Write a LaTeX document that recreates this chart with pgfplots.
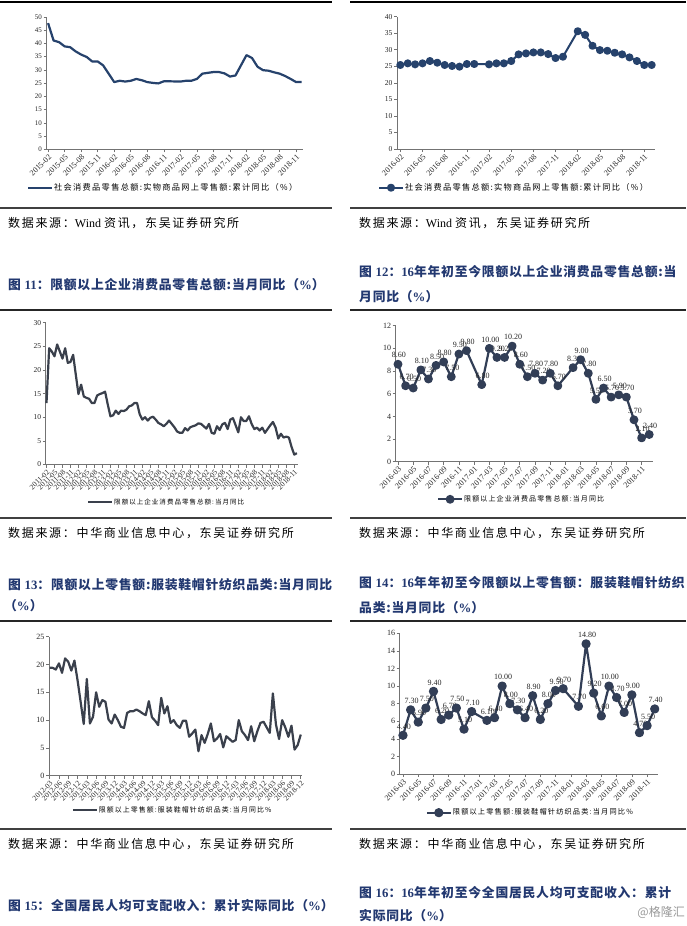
\documentclass[border=0pt]{standalone}
\usepackage{fontspec}
\setmainfont{Liberation Serif}
\newfontfamily\cjk{Noto Sans CJK SC}
\newfontfamily\cjksrc{Noto Sans CJK SC}[LetterSpace=14]
\newfontfamily\cjkcap{Noto Sans CJK SC}[LetterSpace=6]
\newfontfamily\cjkleg{Noto Sans CJK SC}[LetterSpace=16]
\usepackage{pgfplots}
\pgfplotsset{compat=1.18}
\definecolor{navy}{RGB}{38,66,108}
\definecolor{slate}{RGB}{58,64,76}
\definecolor{slateb}{RGB}{50,62,86}
\definecolor{capblue}{RGB}{34,56,112}
\pgfplotsset{
  base/.style={
    scale only axis, axis lines*=left, enlargelimits=false, clip=false,
    axis line style={black!55, line width=0.7pt},
    tick style={black!55, line width=0.6pt},
    tick align=outside, major tick length=3pt,
    /pgf/number format/assume math mode=true,
    yticklabel style={font=\fontsize{7.5}{8}\selectfont, text=black!85, inner sep=1.5pt},
    xticklabel style={font=\fontsize{8}{9}\selectfont, text=black!85, rotate=45, anchor=north east, inner sep=1pt},
    legend style={draw=none, fill=none, inner sep=0pt, outer sep=0pt, anchor=west, nodes={inner sep=1pt}},
    legend cell align=left,
    legend image code/.code={\draw[mark repeat=2,mark phase=2,##1] plot coordinates {(0pt,0pt) (12pt,0pt) (24pt,0pt)};},
  },
  lab/.style={only marks, mark=*, mark size=0.1pt, mark options={draw=none, fill=none}, forget plot, point meta=y,
    nodes near coords={\pgfmathprintnumber[fixed,fixed zerofill,precision=2]{\pgfplotspointmeta}},
    every node near coord/.append style={font=\fontsize{8}{9}\selectfont, text=black!85, anchor=south, yshift=5.5pt, xshift=1pt, inner sep=0.5pt}},
}
\begin{document}
\begin{tikzpicture}
\useasboundingbox (0pt,0pt) rectangle (686pt,-926pt);
% separator lines
\draw[line width=2.5pt] (0pt,-2pt) -- (332pt,-2pt);
\draw[line width=2.5pt] (350pt,-2pt) -- (686pt,-2pt);
\draw[line width=1.8pt, black!75] (0pt,-208pt) -- (332pt,-208pt);
\draw[line width=1.8pt, black!75] (350pt,-208pt) -- (686pt,-208pt);
\draw[line width=2.2pt, black!85] (0pt,-310pt) -- (332pt,-310pt);
\draw[line width=2.2pt, black!85] (350pt,-310pt) -- (686pt,-310pt);
\draw[line width=1.8pt, black!75] (0pt,-518pt) -- (332pt,-518pt);
\draw[line width=1.8pt, black!75] (350pt,-518pt) -- (686pt,-518pt);
\draw[line width=2.2pt, black!85] (0pt,-621pt) -- (332pt,-621pt);
\draw[line width=2.2pt, black!85] (350pt,-621pt) -- (686pt,-621pt);
\draw[line width=1.8pt, black!75] (0pt,-829pt) -- (332pt,-829pt);
\draw[line width=1.8pt, black!75] (350pt,-829pt) -- (686pt,-829pt);

% source lines
\begin{scope}[every node/.style={anchor=west, inner sep=0pt, font=\fontsize{12}{14}\selectfont}]
\node at (8pt,-223pt) {{\cjksrc 数据来源：}Wind {\cjksrc 资讯，东吴证券研究所}};
\node at (359pt,-223pt) {{\cjksrc 数据来源：}Wind {\cjksrc 资讯，东吴证券研究所}};
\node at (8pt,-533pt) {{\cjksrc 数据来源：中华商业信息中心，东吴证券研究所}};
\node at (359pt,-533pt) {{\cjksrc 数据来源：中华商业信息中心，东吴证券研究所}};
\node at (8pt,-844pt) {{\cjksrc 数据来源：中华商业信息中心，东吴证券研究所}};
\node at (359pt,-844pt) {{\cjksrc 数据来源：中华商业信息中心，东吴证券研究所}};
\end{scope}

% captions
\begin{scope}[every node/.style={anchor=west, inner sep=0pt, text=capblue, font=\bfseries\fontsize{12.8}{14}\selectfont}]
\node at (8pt,-285pt) {{\cjkcap 图 }11{\cjkcap ：限额以上企业消费品零售总额:当月同比（}\%{\cjkcap ）}};
\node at (359pt,-272pt) {{\cjkcap 图 }12{\cjkcap ：}16{\cjkcap  年年初至今限额以上企业消费品零售总额:当}};
\node at (359pt,-297pt) {{\cjkcap 月同比（}\%{\cjkcap ）}};
\node at (8pt,-585pt) {{\cjkcap 图 }13{\cjkcap ：限额以上零售额:服装鞋帽针纺织品类:当月同比}};
\node at (4pt,-606pt) {{\cjkcap （}\%{\cjkcap ）}};
\node at (359pt,-583pt) {{\cjkcap 图 }14{\cjkcap ：}16{\cjkcap  年年初至今限额以上零售额：服装鞋帽针纺织}};
\node at (359pt,-608pt) {{\cjkcap 品类:当月同比（}\%{\cjkcap ）}};
\node at (8pt,-906pt) {{\cjkcap 图 }15{\cjkcap ：全国居民人均可支配收入：累计实际同比（}\%{\cjkcap ）}};
\node at (359pt,-893pt) {{\cjkcap 图 }16{\cjkcap ：}16{\cjkcap  年年初至今全国居民人均可支配收入：累计}};
\node at (359pt,-916pt) {{\cjkcap 实际同比（}\%{\cjkcap ）}};
\end{scope}
\node[anchor=east, inner sep=0pt, text=black!40, font=\fontsize{12}{14}\selectfont] at (685pt,-912pt) {\cjk @格隆汇};

% ---------- Chart 1 ----------
\begin{axis}[base, at={(46.7pt,-149.3pt)}, anchor=south west, width=256.3pt, height=132.3pt,
  xmin=-0.25, xmax=46.25, ymin=0, ymax=50, ytick={0,5,...,50},
  yticklabel style={font=\fontsize{7}{8}\selectfont},
  xtick={0,3,...,45},
  xticklabels={2015-02,2015-05,2015-08,2015-11,2016-02,2016-05,2016-08,2016-11,2017-02,2017-05,2017-08,2017-11,2018-02,2018-05,2018-08,2018-11},
  legend style={at={(axis description cs:-0.0769,-0.2925)}, font=\fontsize{8.2}{9}\selectfont}]
\addplot[navy, line width=2.2pt, line join=round] coordinates {
(0,47.7)(1,41.1)(2,40.5)(3,38.9)(4,38.6)(5,37.0)(6,35.8)(7,34.9)(8,33.2)(9,33.2)(10,31.7)
(12,25.4)(13,25.9)(14,25.6)(15,25.9)(16,26.6)(17,26.1)(18,25.4)(19,25.1)(20,24.9)(21,25.7)(22,25.7)
(24,25.6)(25,25.9)(26,25.9)(27,26.6)(28,28.6)(29,28.9)(30,29.2)(31,29.2)(32,28.7)(33,27.5)(34,27.9)
(36,35.6)(37,34.5)(38,31.2)(39,29.9)(40,29.7)(41,29.1)(42,28.6)(43,27.7)(44,26.6)(45,25.4)(46,25.4)};
\addlegendentry{\cjkleg 社会消费品零售总额:实物商品网上零售额:累计同比（\%）}
\end{axis}

% ---------- Chart 2 ----------
\begin{axis}[base, at={(397pt,-149pt)}, anchor=south west, width=258pt, height=132.3pt,
  xmin=-0.45, xmax=34.45, ymin=0, ymax=40, ytick={0,5,...,40},
  xtick={0,3,...,33},
  xticklabels={2016-02,2016-05,2016-08,2016-11,2017-02,2017-05,2017-08,2017-11,2018-02,2018-05,2018-08,2018-11},
  legend style={at={(axis description cs:-0.0736,-0.2925)}, font=\fontsize{8.2}{9}\selectfont}]
\addplot[navy, line width=2pt, line join=round, mark=*, mark size=3pt, mark options={fill=navy, draw=navy}] coordinates {
(0,25.4)(1,25.9)(2,25.6)(3,25.9)(4,26.6)(5,26.1)(6,25.4)(7,25.1)(8,24.9)(9,25.7)(10,25.7)
(12,25.6)(13,25.9)(14,25.9)(15,26.6)(16,28.6)(17,28.9)(18,29.2)(19,29.2)(20,28.7)(21,27.5)(22,27.9)
(24,35.6)(25,34.5)(26,31.2)(27,29.9)(28,29.7)(29,29.1)(30,28.6)(31,27.7)(32,26.6)(33,25.4)(34,25.4)};
\addlegendentry{\cjkleg 社会消费品零售总额:实物商品网上零售额:累计同比（\%）}
\end{axis}

% ---------- Chart 3 ----------
\begin{axis}[base, at={(45.7pt,-464.5pt)}, anchor=south west, width=252pt, height=141.8pt,
  xmin=-0.3, xmax=94.3, ymin=0, ymax=30, ytick={0,5,...,30},
  xtick={0,3,...,93},
  xticklabel style={font=\fontsize{7.5}{8}\selectfont},
  xticklabels={2011-02,2011-05,2011-08,2011-11,2012-02,2012-05,2012-08,2012-11,2013-02,2013-05,2013-08,2013-11,2014-02,2014-05,2014-08,2014-11,2015-02,2015-05,2015-08,2015-11,2016-02,2016-05,2016-08,2016-11,2017-02,2017-05,2017-08,2017-11,2018-02,2018-05,2018-08,2018-11},
  legend style={at={(axis description cs:0.164,-0.2645)}, font=\fontsize{6.5}{8}\selectfont}]
\addplot[slate, line width=2.2pt, line join=round] coordinates {
(0,13.0)(1,24.6)(2,23.9)(3,22.9)(4,25.4)(5,23.9)(6,22.4)(7,24.6)(8,21.5)(9,21.7)
(10,23.2)(11,19.0)(12,14.9)(13,16.9)(14,14.4)(15,14.1)(16,13.9)(17,13.0)(18,13.0)(19,14.6)
(20,14.9)(21,15.1)(22,15.4)(23,12.7)(24,10.2)(25,10.4)(26,11.4)(27,10.7)(28,11.4)(29,11.3)
(30,11.6)(31,12.3)(32,12.5)(33,13.0)(34,13.0)(35,10.6)(36,9.5)(37,10.0)(38,9.3)(39,9.9)
(40,10.1)(41,9.5)(42,8.8)(43,8.5)(44,8.1)(45,8.6)(46,9.3)(47,8.6)(48,7.9)(49,7.0)
(50,6.7)(51,6.7)(52,7.7)(53,7.2)(54,7.9)(55,8.1)(56,8.3)(57,8.7)(58,8.6)(59,8.1)(60,7.6)
(61,8.6)(62,6.7)(63,6.5)(64,8.1)(65,7.3)(66,8.5)(67,8.8)(68,7.5)(69,9.5)(70,9.8)
(72,6.8)(73,10.0)(74,9.2)(75,9.2)(76,10.2)(77,8.6)(78,7.5)(79,7.8)(80,7.2)(81,7.8)(82,6.7)
(84,8.3)(85,9.0)(86,7.8)(87,5.5)(88,6.5)(89,5.7)(90,5.9)(91,5.7)(92,3.7)(93,2.1)(94,2.4)};
\addlegendentry{\cjkleg 限额以上企业消费品零售总额:当月同比}
\end{axis}

% ---------- Chart 4 ----------
\begin{axis}[base, at={(395.7pt,-461.7pt)}, anchor=south west, width=257.3pt, height=136pt,
  xmin=-0.3, xmax=33.5, ymin=0, ymax=12, ytick={0,2,...,12},
  yticklabel style={font=\fontsize{8}{9}\selectfont},
  xtick={0,2,...,32},
  xticklabels={2016-03,2016-05,2016-07,2016-09,2016-11,2017-01,2017-03,2017-05,2017-07,2017-09,2017-11,2018-01,2018-03,2018-05,2018-07,2018-09,2018-11},
  legend style={at={(axis description cs:0.1605,-0.2765)}, font=\fontsize{7}{8}\selectfont}]
\addplot[lab] coordinates {
(0,8.6)(1,6.7)(2,6.5)(3,8.1)(4,7.3)(5,8.5)(6,8.8)(7,7.5)(8,9.5)(9,9.8)
(11,6.8)(12,10.0)(13,9.2)(14,9.2)(15,10.2)(16,8.6)(17,7.5)(18,7.8)(19,7.2)(20,7.8)(21,6.7)
(23,8.3)(24,9.0)(25,7.8)(26,5.5)(27,6.5)(28,5.7)(29,5.9)(30,5.7)(31,3.7)(32,2.1)(33,2.4)};
\addplot[slateb, line width=2.2pt, line join=round, mark=*, mark size=3.3pt, mark options={fill=slateb, draw=slateb}] coordinates {
(0,8.6)(1,6.7)(2,6.5)(3,8.1)(4,7.3)(5,8.5)(6,8.8)(7,7.5)(8,9.5)(9,9.8)
(11,6.8)(12,10.0)(13,9.2)(14,9.2)(15,10.2)(16,8.6)(17,7.5)(18,7.8)(19,7.2)(20,7.8)(21,6.7)
(23,8.3)(24,9.0)(25,7.8)(26,5.5)(27,6.5)(28,5.7)(29,5.9)(30,5.7)(31,3.7)(32,2.1)(33,2.4)};
\addlegendentry{\cjkleg 限额以上企业消费品零售总额:当月同比}
\end{axis}

% ---------- Chart 5 ----------
\begin{axis}[base, at={(49pt,-775.7pt)}, anchor=south west, width=252.7pt, height=139pt,
  xmin=-0.2, xmax=81.3, ymin=0, ymax=25, ytick={0,5,...,25},
  yticklabel style={font=\fontsize{8}{9}\selectfont},
  xtick={0,3,...,81},
  xticklabel style={font=\fontsize{7.5}{8}\selectfont},
  xticklabels={2012-03,2012-06,2012-09,2012-12,2013-03,2013-06,2013-09,2013-12,2014-03,2014-06,2014-09,2014-12,2015-03,2015-06,2015-09,2015-12,2016-03,2016-06,2016-09,2016-12,2017-03,2017-06,2017-09,2017-12,2018-03,2018-06,2018-09,2018-12},
  legend style={at={(axis description cs:0.0898,-0.2468)}, font=\fontsize{6.9}{8}\selectfont}]
\addplot[slate, line width=2.2pt, line join=round] coordinates {
(0,19.4)(1,19.4)(2,19.1)(3,20.2)(4,18.5)(5,21.1)(6,20.5)(7,18.9)(8,20.7)(9,17.2)
(10,13.3)(11,9.3)(12,17.4)(13,9.4)(14,10.6)(15,15.0)(16,12.4)(17,13.6)(18,13.3)(19,10.1)
(20,9.4)(21,11.0)(22,10.0)(23,8.8)(24,8.6)(25,11.3)(26,11.6)(27,11.6)(28,11.9)(29,11.6)
(30,11.2)(31,10.9)(32,13.4)(33,10.5)(34,9.9)(35,9.1)(36,14.0)(37,11.2)(38,12.5)(39,9.5)
(40,10.0)(41,9.1)(42,8.6)(43,9.9)(44,9.9)(45,7.0)(46,7.6)(47,8.3)
(48,4.4)(49,7.3)(50,5.9)(51,7.5)(52,9.4)(53,6.2)(54,6.7)(55,7.5)(56,5.1)(57,7.1)
(59,6.1)(60,6.4)(61,10.0)(62,8.0)(63,7.3)(64,6.4)(65,8.9)(66,6.2)(67,8.0)(68,9.5)(69,9.7)
(71,7.7)(72,14.8)(73,9.2)(74,6.6)(75,10.0)(76,8.7)(77,7.0)(78,9.0)(79,4.7)(80,5.5)(81,7.4)};
\addlegendentry{\cjkleg 限额以上零售额:服装鞋帽针纺织品类:当月同比\%}
\end{axis}

% ---------- Chart 6 ----------
\begin{axis}[base, at={(399.7pt,-774pt)}, anchor=south west, width=258.3pt, height=140.7pt,
  xmin=-0.43, xmax=33.43, ymin=0, ymax=16, ytick={0,2,...,16},
  yticklabel style={font=\fontsize{8}{9}\selectfont},
  xtick={0,2,...,32},
  xticklabels={2016-03,2016-05,2016-07,2016-09,2016-11,2017-01,2017-03,2017-05,2017-07,2017-09,2017-11,2018-01,2018-03,2018-05,2018-07,2018-09,2018-11},
  legend style={at={(axis description cs:0.1007,-0.275)}, font=\fontsize{7.2}{8}\selectfont}]
\addplot[lab] coordinates {
(0,4.4)(1,7.3)(2,5.9)(3,7.5)(4,9.4)(5,6.2)(6,6.7)(7,7.5)(8,5.1)(9,7.1)
(11,6.1)(12,6.4)(13,10.0)(14,8.0)(15,7.3)(16,6.4)(17,8.9)(18,6.2)(19,8.0)(20,9.5)(21,9.7)
(23,7.7)(24,14.8)(25,9.2)(26,6.6)(27,10.0)(28,8.7)(29,7.0)(30,9.0)(31,4.7)(32,5.5)(33,7.4)};
\addplot[slateb, line width=2.2pt, line join=round, mark=*, mark size=3.5pt, mark options={fill=slateb, draw=slateb}] coordinates {
(0,4.4)(1,7.3)(2,5.9)(3,7.5)(4,9.4)(5,6.2)(6,6.7)(7,7.5)(8,5.1)(9,7.1)
(11,6.1)(12,6.4)(13,10.0)(14,8.0)(15,7.3)(16,6.4)(17,8.9)(18,6.2)(19,8.0)(20,9.5)(21,9.7)
(23,7.7)(24,14.8)(25,9.2)(26,6.6)(27,10.0)(28,8.7)(29,7.0)(30,9.0)(31,4.7)(32,5.5)(33,7.4)};
\addlegendentry{\cjkleg 限额以上零售额:服装鞋帽针纺织品类:当月同比\%}
\end{axis}
\end{tikzpicture}
\end{document}
